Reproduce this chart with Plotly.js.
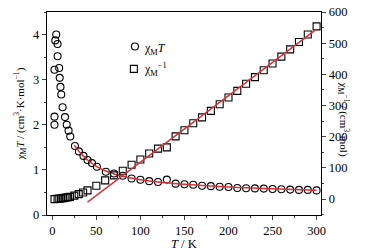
<!DOCTYPE html>
<html><head><meta charset="utf-8">
<script src="https://cdn.plot.ly/plotly-3.0.1.min.js"></script>
<style>html,body{margin:0;padding:0;background:#fff}#chart{width:378px;height:250px}</style>
</head><body><div id="chart"></div>
<script>
// chi_M T data (cm3 K mol-1)
const tChiT = [2.5,2.5,2.5,3.4,4.5,6,6,7.8,8.4,9.3,10.2,11.7,14.4,16.4,18.5,20.4,25.7,30.2,35.4,40,45,50.6,60.8,70,80,90,100,110,120,130,140,150,160,170,180,190,200,210,220,230,240,250,260,270,280,290,300];
const chiT = [2.0,2.18,3.22,3.87,4.0,3.79,3.52,3.26,3.04,2.84,2.67,2.39,2.17,2.0,1.87,1.74,1.53,1.41,1.31,1.22,1.15,1.07,0.96,0.92,0.87,0.81,0.78,0.75,0.73,0.785,0.695,0.68,0.67,0.65,0.64,0.625,0.62,0.60,0.593,0.59,0.585,0.578,0.57,0.563,0.556,0.556,0.545];
// fit curve for chi_M T
const tFitChiT = [25,30,35,40,50,60,70,80,100,120,150,200,250,300];
const fitChiT = [1.55,1.42,1.31,1.22,1.08,0.98,0.91,0.86,0.78,0.73,0.68,0.62,0.58,0.55];
// chi_M^-1 data (mol cm-3)
const tInv = [2.5,6,8,10,12,14,16,18,20,25,30,35,40,50,60,70,80,90,100,110,120,130,140,150,160,170,180,190,200,210,220,230,240,250,260,270,280,290,300];
const chiInv = [0,1,1.5,2,3,4,5,6,7,11,16,21,28,43,60,76,91,110,127,146,162,166,201,221,243,262,283,304,326,347,370,391,413,435,457,480,504,528,554];
// Curie-Weiss fit line endpoints
const tFitInv = [40,300];
const fitInv = [-10,545];

const serif = 'Liberation Serif, Times New Roman, serif';
const red = '#d6323a';

const traces = [
  {x:tChiT, y:chiT, type:'scatter', mode:'markers', name:'χMT', yaxis:'y',
   marker:{symbol:'circle-open', size:7, color:'#000', line:{width:1.1,color:'#000'}}},
  {x:tInv, y:chiInv, type:'scatter', mode:'markers', name:'χM-1', yaxis:'y2',
   marker:{symbol:'square-open', size:7, color:'#000', line:{width:1.1,color:'#000'}}},
  {x:tFitChiT, y:fitChiT, type:'scatter', mode:'lines', yaxis:'y',
   line:{color:red, width:1.5, shape:'spline'}},
  {x:tFitInv, y:fitInv, type:'scatter', mode:'lines', yaxis:'y2',
   line:{color:red, width:1.5}}
];

const layout = {
  width:378, height:250,
  margin:{l:47, r:57, t:12, b:35},
  paper_bgcolor:'#fff', plot_bgcolor:'#fff',
  showlegend:false,
  font:{family:serif, size:12, color:'#000'},
  xaxis:{range:[-6,305], showline:true, linecolor:'#000', linewidth:1.2, mirror:true,
    ticks:'outside', ticklen:4, tickwidth:1, dtick:50, tick0:0, showgrid:false, zeroline:false,
    minor:{dtick:25, ticks:'outside', ticklen:2, tickwidth:1, showgrid:false},
    tickfont:{family:serif, size:12.5}},
  yaxis:{range:[0,4.5], showline:true, linecolor:'#000', linewidth:1.2,
    ticks:'outside', ticklen:4, tickwidth:1, dtick:1, tick0:0, showgrid:false, zeroline:false,
    minor:{dtick:0.5, ticks:'outside', ticklen:2, tickwidth:1, showgrid:false},
    tickfont:{family:serif, size:12.5},
    title:{text:'χ<sub>M</sub><i>T</i> / (cm<sup>3</sup>·K·mol<sup>−1</sup>)', font:{family:serif, size:11}, standoff:6}},
  yaxis2:{range:[-51,600], overlaying:'y', side:'right', showline:true, linecolor:'#000', linewidth:1.2,
    ticks:'outside', ticklen:4, tickwidth:1, dtick:100, tick0:0, showgrid:false, zeroline:false,
    minor:{dtick:50, ticks:'outside', ticklen:2, tickwidth:1, showgrid:false},
    tickfont:{family:serif, size:12.5}},
  annotations:[
    {xref:'paper', yref:'paper', x:0.5, y:-0.145, yanchor:'middle', showarrow:false,
     text:'<i>T</i> / K', font:{family:serif, size:12.5}},
    {xref:'paper', yref:'paper', x:1.12, y:0.47, textangle:90, showarrow:false,
     text:'χ<sub>M</sub><sup>−1</sup> / (cm<sup>3</sup>·mol)', font:{family:serif, size:11}},
    {xref:'paper', yref:'paper', x:0.347, y:0.82, xanchor:'left', yanchor:'middle', showarrow:false,
     text:'χ<sub>M</sub><i>T</i>', font:{family:serif, size:12}},
    {xref:'paper', yref:'paper', x:0.347, y:0.715, xanchor:'left', yanchor:'middle', showarrow:false,
     text:'χ<sub>M</sub><sup>−1</sup>', font:{family:serif, size:12}}
  ],
  shapes:[
    {type:'circle', xref:'paper', yref:'paper', xsizemode:'pixel', ysizemode:'pixel',
     xanchor:0.321, yanchor:0.83, x0:-3.5, x1:3.5, y0:-3.5, y1:3.5, line:{color:'#000', width:1.1}},
    {type:'rect', xref:'paper', yref:'paper', xsizemode:'pixel', ysizemode:'pixel',
     xanchor:0.317, yanchor:0.72, x0:-3.5, x1:3.5, y0:-3.5, y1:3.5, line:{color:'#000', width:1.1}}
  ]
};
Plotly.newPlot('chart', traces, layout, {staticPlot:true, displayModeBar:false});
</script></body></html>
